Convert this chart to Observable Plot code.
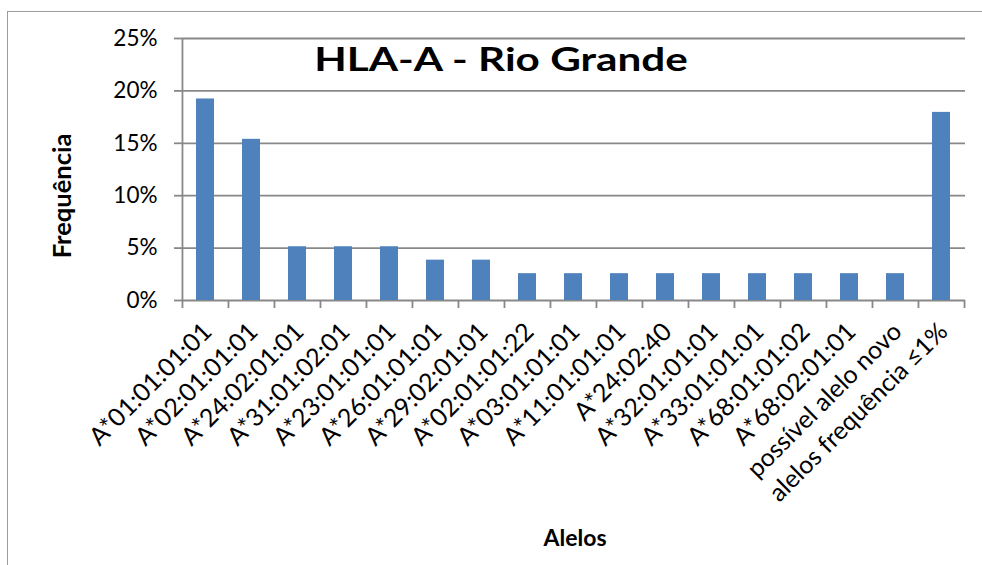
<!DOCTYPE html>
<html>
<head>
<meta charset="utf-8">
<script src="https://cdn.jsdelivr.net/npm/d3@7"></script>
<script src="https://cdn.jsdelivr.net/npm/@observablehq/plot@0.6"></script>
<style>
  html, body { margin: 0; padding: 0; background: #fff; overflow: hidden; }
  #wrap { position: relative; width: 982px; height: 565px; overflow: hidden; font-family: Lato, "Open Sans", sans-serif; color: #000; }
  #wrap svg { position: absolute; left: 0; top: 0; }
  #border { position: absolute; left: 7px; top: 11px; width: 1200px; height: 900px; border: 1px solid #9c9c9c; box-sizing: border-box; }
  .lbl { position: absolute; white-space: nowrap; font-weight: bold; line-height: 1; }
  #title { left: 501px; top: 42px; font-size: 33px; transform: translateX(-50%) scaleX(1.28); }
  #ylab { left: 62px; top: 196px; font-size: 25.5px; transform: translate(-50%, -50%) rotate(-90deg); }
  #xlab { left: 575px; top: 526px; font-size: 23px; transform: translateX(-50%); }
</style>
</head>
<body>
<div id="wrap">
  <div id="border"></div>
  <div id="chart"></div>
  <div class="lbl" id="title"></div>
  <div class="lbl" id="ylab"></div>
  <div class="lbl" id="xlab"></div>
</div>
<script>
// ---- data ----
const titleText = "HLA-A - Rio Grande";
const yTitle = "Frequência";
const xTitle = "Alelos";
const categories = [
  "A*01:01:01:01", "A*02:01:01:01", "A*24:02:01:01", "A*31:01:02:01",
  "A*23:01:01:01", "A*26:01:01:01", "A*29:02:01:01", "A*02:01:01:22",
  "A*03:01:01:01", "A*11:01:01:01", "A*24:02:40", "A*32:01:01:01",
  "A*33:01:01:01", "A*68:01:01:02", "A*68:02:01:01", "possível alelo novo",
  "alelos frequência ≤1%"
];
const frequencies = [
  19.23, 15.38, 5.13, 5.13,
  5.13, 3.85, 3.85, 2.56,
  2.56, 2.56, 2.56, 2.56,
  2.56, 2.56, 2.56, 2.56,
  17.95
];
const yTicks = [0, 5, 10, 15, 20, 25];

// ---- layout ----
const W = 982, H = 565;
const mL = 182, mR = 17, mT = 38, mB = 265;
const step = (W - mL - mR) / categories.length;
const lineColor = "#888888";
const barColor = "#4F81BD";

const table = categories.map((c, i) => ({allele: c, freq: frequencies[i]}));

document.getElementById("title").textContent = titleText;
document.getElementById("ylab").textContent = yTitle;
document.getElementById("xlab").textContent = xTitle;

const chart = Plot.plot({
  width: W, height: H,
  marginLeft: mL, marginRight: mR, marginTop: mT, marginBottom: mB,
  style: {fontFamily: "Lato, 'Open Sans', sans-serif", fontSize: "22px", color: "#000", background: "transparent", overflow: "visible"},
  x: {domain: categories, paddingInner: 0.6, paddingOuter: 0.3, axis: null},
  y: {domain: [0, 25], axis: null},
  marks: [
    Plot.gridY(yTicks, {stroke: lineColor, strokeOpacity: 1, strokeWidth: 1.8}),
    Plot.barY(table, {x: "allele", y: "freq", fill: barColor}),
    Plot.ruleX([categories[0]], {dx: -step / 2, stroke: lineColor, strokeWidth: 1.8}),
    Plot.axisY(yTicks, {tickSize: 8, tickPadding: 17, tickFormat: d => d + "%", stroke: lineColor, strokeWidth: 1.8, fontSize: 22.5, label: null}),
    Plot.axisX(categories, {tickSize: 8, tickFormat: () => "", dx: -step / 2, stroke: lineColor, strokeWidth: 1.8, label: null}),
    Plot.axisX([categories[categories.length - 1]], {tickSize: 8, tickFormat: () => "", dx: step / 2, stroke: lineColor, strokeWidth: 1.8, label: null}),
    Plot.axisX(categories, {tickSize: 0, tickPadding: 27, dx: 2, tickRotate: -45, fontSize: 25, label: null})
  ]
});
document.getElementById("chart").appendChild(chart);
</script>
</body>
</html>
